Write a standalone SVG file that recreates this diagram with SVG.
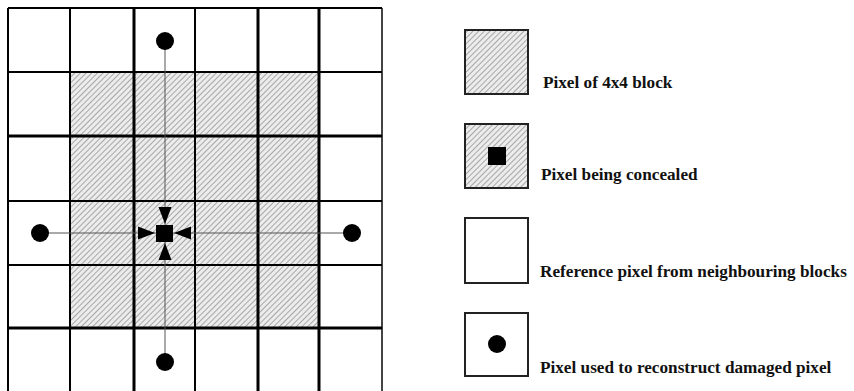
<svg xmlns="http://www.w3.org/2000/svg" width="854" height="391" viewBox="0 0 854 391">
<style>
.txt{font-family:"Liberation Serif","Times New Roman",serif;font-weight:bold;font-size:17.2px;fill:#111}
.grid{stroke:#000;fill:none}
.box{stroke:#222;stroke-width:2}
.thin{stroke:#555;stroke-width:1}
</style>
<defs>
<pattern id="hatch" patternUnits="userSpaceOnUse" width="4" height="4" patternTransform="rotate(45)">
<rect width="4" height="4" fill="#ececec"/>
<line x1="0" y1="0" x2="0" y2="4" stroke="#8a8a8a" stroke-width="1.4"/>
</pattern>
</defs>
<rect width="854" height="391" fill="#fff"/>
<g id="grid">
<rect x="70" y="72" width="249" height="256" fill="url(#hatch)"/>
<g class="grid" stroke-width="2">
<line x1="8" y1="8" x2="8" y2="391"/>
<line x1="70" y1="8" x2="70" y2="391"/>
<line x1="195" y1="8" x2="195" y2="391"/>
<line x1="382" y1="8" x2="382" y2="391" stroke="#444"/>
<line x1="8" y1="8" x2="382" y2="8"/>
<line x1="8" y1="72" x2="382" y2="72"/>
<line x1="8" y1="201" x2="382" y2="201"/>
<line x1="8" y1="265" x2="382" y2="265"/>
</g>
<g class="grid" stroke-width="3">
<line x1="134" y1="8" x2="134" y2="391"/>
<line x1="258" y1="8" x2="258" y2="391"/>
<line x1="319" y1="8" x2="319" y2="391"/>
<line x1="8" y1="136" x2="382" y2="136"/>
<line x1="8" y1="328" x2="382" y2="328"/>
</g>
</g>
<g id="connectors">
<line class="thin" x1="165" y1="41" x2="165" y2="362"/>
<line class="thin" x1="40" y1="233" x2="352" y2="233"/>
<polygon points="158.5,207 171.5,207 165,224" fill="#000"/>
<polygon points="158.5,260 171.5,260 165,243" fill="#000"/>
<polygon points="138,226.5 138,239.5 155,233" fill="#000"/>
<polygon points="191,226.5 191,239.5 174,233" fill="#000"/>
</g>
<g id="center-pixel"><rect x="156" y="225" width="17" height="17" fill="#000"/></g>
<g id="dot-top"><circle cx="165" cy="41" r="9" fill="#000"/></g>
<g id="dot-left"><circle cx="40" cy="233" r="9" fill="#000"/></g>
<g id="dot-right"><circle cx="352" cy="233" r="9" fill="#000"/></g>
<g id="dot-bottom"><circle cx="165" cy="362" r="9" fill="#000"/></g>
<g id="legend-block">
<rect class="box" x="465" y="30" width="63" height="64" fill="url(#hatch)"/>
<text class="txt" x="543" y="88">Pixel of 4x4 block</text>
</g>
<g id="legend-concealed">
<rect class="box" x="465" y="124" width="63" height="64" fill="url(#hatch)"/>
<rect x="488" y="147" width="18" height="18" fill="#000"/>
<text class="txt" x="541" y="180">Pixel being concealed</text>
</g>
<g id="legend-reference">
<rect class="box" x="465" y="218" width="63" height="65" fill="#fff"/>
<text class="txt" x="540" y="277">Reference pixel from neighbouring blocks</text>
</g>
<g id="legend-used">
<rect class="box" x="465" y="313" width="63" height="63" fill="#fff"/>
<circle cx="497" cy="344" r="9" fill="#000"/>
<text class="txt" x="540" y="373">Pixel used to reconstruct damaged pixel</text>
</g>
</svg>
